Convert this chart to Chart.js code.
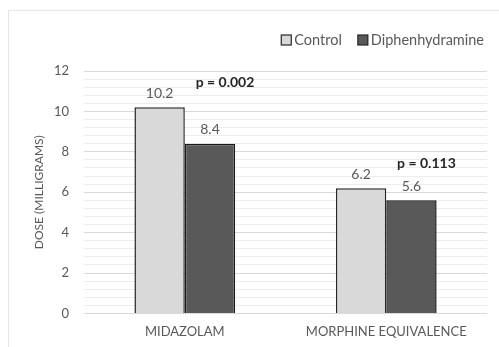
<!DOCTYPE html>
<html>
<head>
<meta charset="utf-8">
<script src="https://cdn.jsdelivr.net/npm/chart.js@4"></script>
<style>
  html, body { margin: 0; padding: 0; background: #fff; }
  #wrap { position: relative; width: 499px; height: 347px; }
  #frame { position: absolute; left: 8px; top: 10px; width: 500px; height: 400px; border: 1px solid #e6e6e6; box-sizing: border-box; }
  canvas { position: absolute; left: 0; top: 0; }
</style>
</head>
<body>
<div id="wrap">
  <div id="frame"></div>
  <canvas id="chart" width="499" height="347"></canvas>
</div>
<script>
// data
const categories = ['MIDAZOLAM', 'MORPHINE EQUIVALENCE'];
const controlValues = [10.2, 6.2];
const diphenValues = [8.4, 5.6];
const pValues = ['p = 0.002', 'p = 0.113'];
const yTicks = [0, 2, 4, 6, 8, 10, 12];
const yTitle = 'DOSE (MILLIGRAMS)';

const textGray = '#595959';
const fontFam = 'Lato, "Open Sans", sans-serif';

// value labels over bars + p values + y title + legend
const labelPlugin = {
    id: 'labels',
    afterDatasetsDraw(chart) {
        const ctx = chart.ctx;
        const area = chart.chartArea;
        ctx.save();
        ctx.textAlign = 'center';
        ctx.textBaseline = 'bottom';
        ctx.fillStyle = textGray;
        ctx.font = '14px ' + fontFam;
        chart.data.datasets.forEach((ds, i) => {
            chart.getDatasetMeta(i).data.forEach((bar, j) => {
                ctx.fillText(ds.data[j].toFixed(1), bar.x, bar.y - 7);
            });
        });
        const y = chart.scales.y;
        const diphBars = chart.getDatasetMeta(1).data;
        ctx.font = 'bold 14px ' + fontFam;
        ctx.fillStyle = '#262626';
        pValues.forEach((p, j) => {
            const top = Math.max(controlValues[j], diphenValues[j]);
            ctx.fillText(p, diphBars[j].x + 15, y.getPixelForValue(top) - 18);
        });

        // legend, right aligned
        ctx.font = '14.5px ' + fontFam;
        ctx.textAlign = 'left';
        ctx.textBaseline = 'middle';
        let x = 484;
        const ly = 40;
        const items = chart.data.datasets.slice().reverse();
        items.forEach((ds, k) => {
            const w = ctx.measureText(ds.label).width;
            x -= w;
            ctx.fillStyle = textGray;
            ctx.fillText(ds.label, x, ly);
            x -= 13;
            ctx.fillStyle = ds.backgroundColor;
            ctx.strokeStyle = '#262626';
            ctx.lineWidth = 1.2;
            ctx.fillRect(x, ly - 5, 10, 10);
            ctx.strokeRect(x, ly - 5, 10, 10);
            x -= 16;
        });

        // rotated y axis title
        ctx.translate(39, (area.top + area.bottom) / 2);
        ctx.rotate(-Math.PI / 2);
        ctx.textAlign = 'center';
        ctx.textBaseline = 'middle';
        ctx.font = '12px ' + fontFam;
        ctx.fillStyle = textGray;
        ctx.fillText(yTitle, 0, 0);
        ctx.restore();
    }
};

const isMajor = v => Math.abs(v / 2 - Math.round(v / 2)) < 1e-6;

new Chart(document.getElementById('chart'), {
    type: 'bar',
    data: {
        labels: categories,
        datasets: [{
            label: 'Control',
            data: controlValues,
            backgroundColor: '#d9d9d9',
            borderColor: '#262626',
            borderWidth: 1.5,
            categoryPercentage: 0.5,
            barPercentage: 1
        }, {
            label: 'Diphenhydramine',
            data: diphenValues,
            backgroundColor: '#595959',
            borderColor: '#1a1a1a',
            borderWidth: 1.5,
            categoryPercentage: 0.5,
            barPercentage: 1
        }]
    },
    options: {
        responsive: false,
        animation: false,
        layout: { padding: { left: 39, right: 12, top: 71, bottom: 4 } },
        plugins: {
            tooltip: { enabled: false },
            legend: { display: false }
        },
        scales: {
            x: {
                grid: { display: false },
                border: { display: false },
                ticks: { color: textGray, font: { family: fontFam, size: 13 }, maxRotation: 0 }
            },
            y: {
                min: yTicks[0],
                max: yTicks[yTicks.length - 1],
                border: { display: false },
                grid: {
                    color: c => isMajor(c.tick.value) ? '#d9d9d9' : '#ededed',
                    lineWidth: 1,
                    drawTicks: false
                },
                ticks: {
                    stepSize: 0.4,
                    autoSkip: false,
                    padding: 15,
                    color: textGray,
                    font: { family: fontFam, size: 13 },
                    callback: v => isMajor(v) && yTicks.includes(Math.round(v)) ? String(Math.round(v)) : ''
                }
            }
        }
    },
    plugins: [labelPlugin]
});
</script>
</body>
</html>
